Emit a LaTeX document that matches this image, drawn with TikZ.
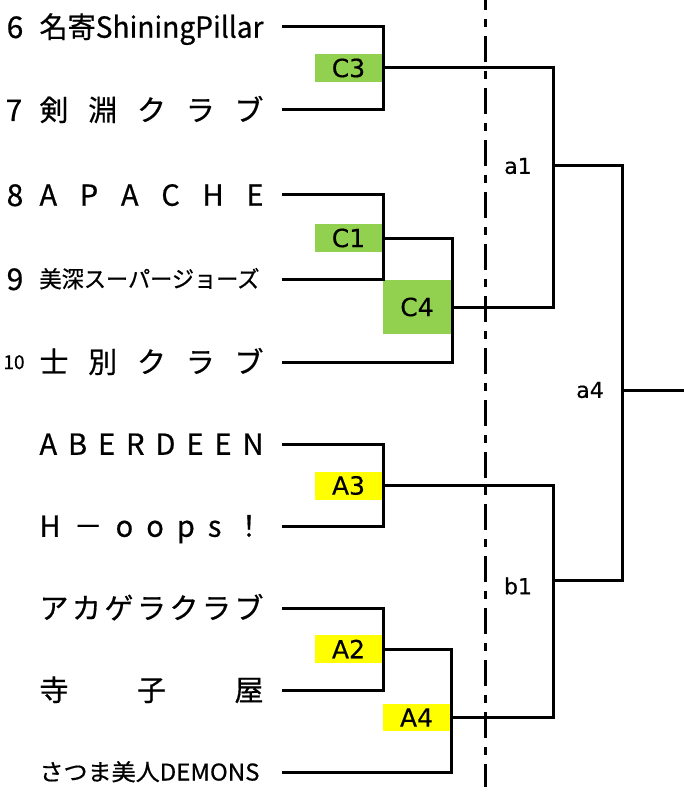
\documentclass[tikz,border=0pt]{standalone}
\usepackage{fontspec}
\usepackage{graphicx}
\setmainfont{Noto Sans CJK JP}[FakeBold=0.6]
\newfontfamily\lblfont{DejaVu Sans}[FakeBold=0.4]
\definecolor{cgreen}{RGB}{146,208,80}
\definecolor{ayellow}{RGB}{255,255,0}

\begin{document}
\begin{tikzpicture}[x=1pt,y=-1pt,line width=3pt]
\tikzstyle{every node}+=[inner sep=0pt]
\tikzstyle{num}=[font=\fontsize{30}{30}\selectfont,text height=22pt,text depth=0pt]
\tikzstyle{team}=[anchor=west,font=\fontsize{29}{29}\selectfont,text height=21.5pt,text depth=0pt]
\tikzstyle{small}=[font=\fontsize{23}{23}\selectfont,text height=17pt]
\tikzstyle{gbox}=[fill=cgreen,minimum width=67pt,minimum height=28pt,font=\lblfont\fontsize{25}{25}\selectfont]
\tikzstyle{ybox}=[fill=ayellow,minimum width=67pt,minimum height=28pt,font=\lblfont\fontsize{25}{25}\selectfont]
\tikzstyle{rlbl}=[font=\lblfont\fontsize{22}{22}\selectfont]
\tikzstyle{dashdot}=[dash pattern=on 26pt off 9pt on 8pt off 9pt,dash phase=16pt]
\useasboundingbox (0,0) rectangle (684,794);
\node[num] (n6) at (15,27) {6};
\node[num] (n7) at (14,110) {7};
\node[num] (n8) at (15,195) {8};
\node[num] (n9) at (15,279) {9};
\node[num,font=\fontsize{19}{19}\selectfont,text height=14pt] (n10) at (14,362) {10};
\node[team] (t6) at (38,27) {\resizebox{224pt}{\height}{名寄ShiningPillar}};
\node[team] (t7) at (38,110) {\makebox[224pt][s]{剣\hfill 淵\hfill ク\hfill ラ\hfill ブ}};
\node[team] (t8) at (38,195) {\makebox[224pt][s]{A\hfill P\hfill A\hfill C\hfill H\hfill E}};
\node[team,small] (t9) at (38,279) {\resizebox{220pt}{\height}{美深スーパージョーズ}};
\node[team] (t10) at (38,362) {\makebox[224pt][s]{士\hfill 別\hfill ク\hfill ラ\hfill ブ}};
\node[team] (tab) at (38,444) {\makebox[224pt][s]{A\hfill B\hfill E\hfill R\hfill D\hfill E\hfill E\hfill N}};
\node[team] (tho) at (38,526) {\makebox[224pt][s]{H\hfill －\hfill o\hfill o\hfill p\hfill s\hfill ！}};
\node[team] (tak) at (38,608) {\makebox[224pt][s]{ア\hfill カ\hfill ゲ\hfill ラ\hfill ク\hfill ラ\hfill ブ}};
\node[team] (tte) at (38,690) {\makebox[224pt][s]{寺\hfill 子\hfill 屋}};
\node[team,small] (tsa) at (38,772) {\resizebox{220pt}{\height}{さつま美人DEMONS}};
\coordinate (s6) at (282,27);
\coordinate (s7) at (282,110);
\coordinate (s8) at (282,195);
\coordinate (s9) at (282,279);
\coordinate (s10) at (282,362);
\coordinate (sab) at (282,444);
\coordinate (sho) at (282,526);
\coordinate (sak) at (282,608);
\coordinate (ste) at (282,690);
\coordinate (ssa) at (282,772);
\node[gbox] (c3) at (348.5,68) {C3};
\node[gbox] (c1) at (348.5,238) {C1};
\node[gbox,minimum width=68pt,minimum height=54pt] (c4) at (417,307) {C4};
\node[ybox] (a3) at (348.5,485.5) {A3};
\node[ybox] (a2) at (348.5,649) {A2};
\node[ybox,minimum height=27pt] (a4) at (416.5,717.5) {A4};
\coordinate (ja1) at (553,166);
\coordinate (jb1) at (553,580);
\coordinate (ja4) at (622,390);
\coordinate (win) at (684,390);
\node[rlbl] (la1) at (518,166) {a1};
\node[rlbl] (lb1) at (518,586) {b1};
\node[rlbl] (la4) at (590,390) {a4};
\draw [black] (s6) -| (c3.east) |- (s7);
\draw [black] (s8) -| (c1.east) |- (s9);
\draw [black] (c1.east) -| (c4.east) |- (s10);
\draw [black] (c3.east) -| (ja1);
\draw [black] (c4.east) -| (ja1);
\draw [black] (sab) -| (a3.east) |- (sho);
\draw [black] (sak) -| (a2.east) |- (ste);
\draw [black] (a2.east) -| (a4.east) |- (ssa);
\draw [black] (a3.east) -| (jb1);
\draw [black] (a4.east) -| (jb1);
\draw [black] (ja1) -| (ja4);
\draw [black] (jb1) -| (ja4);
\draw [black] (ja4) -- (win);
\coordinate (dtop) at (485,0);
\coordinate (dbot) at (485,787);
\draw [black,dashdot] (dtop) -- (dbot);
\end{tikzpicture}
\end{document}
